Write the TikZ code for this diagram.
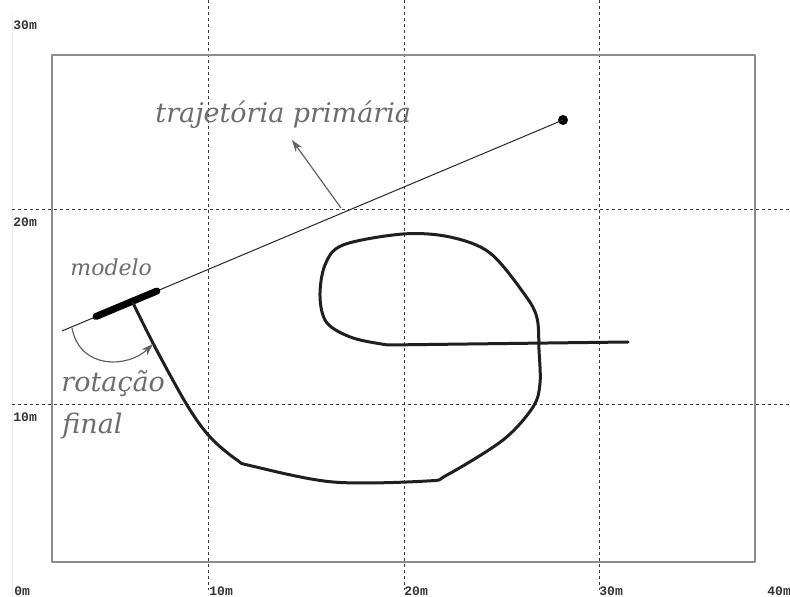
\documentclass[tikz,border=0pt]{standalone}
\usepackage{fontspec}
\newfontfamily\tagfont{DejaVu Serif}
\newfontfamily\tickfont{Liberation Mono}
\usetikzlibrary{arrows.meta, calc}
\definecolor{cgrid}{HTML}{3A3A3A}
\definecolor{cframe}{HTML}{8C8C8C}
\definecolor{ctext}{HTML}{6C6C6C}
\definecolor{croute}{HTML}{1F1F1F}
\tikzset{
  every picture/.style={x=0.5pt, y=-0.5pt, line join=round},
  gridline/.style={draw=cgrid, line width=0.5pt, dash pattern=on 1.5pt off 1.5pt},
  plotframe/.style={draw=cframe, line width=1pt},
  ticklabel/.style={font=\tickfont\bfseries\fontsize{6.5}{7}\selectfont, text=black!80, anchor=north west, inner sep=0pt},
  tag/.style={font=\tagfont\itshape\fontsize{13.5}{15}\selectfont, text=ctext, anchor=base west, inner sep=0pt},
  primary/.style={draw=black!85, line width=0.5pt},
  model/.style={draw=black, line width=3.5pt, line cap=round},
  route/.style={draw=croute, line width=1.5pt, line cap=round},
  pointer/.style={-{Stealth[length=6pt, width=4pt]}, draw=black!62, line width=0.6pt},
  goal/.style={circle, fill=black, inner sep=0pt, minimum size=5pt},
}
\begin{document}
\begin{tikzpicture}
  \useasboundingbox (0,0) rectangle (790,597);
  % grid, axis and frame
  \draw[draw=black!8, line width=0.5pt] (12,15) -- (12,597);
  \foreach \gx in {208,404,599}
    \draw[gridline] (\gx,0) -- (\gx,590);
  \foreach \gy in {210,405}
    \draw[gridline] (12,\gy) -- (790,\gy);
  \draw[plotframe] (52,55) rectangle (755,562);
  % axis marks
  \foreach \gx/\txt [count=\i] in {14/0m, 209/10m, 404/20m, 599/30m, 767/40m}
    \node[ticklabel] (xt\i) at (\gx,586) {\txt};
  \foreach \gy/\txt [count=\i] in {20/30m, 217/20m, 412/10m}
    \node[ticklabel] (yt\i) at (13,\gy) {\txt};
  % primary trajectory and goal point
  \coordinate (p0) at (62,331);
  \node[goal] (p1) at (563,120) {};
  \draw[primary] (p0) -- (p1.center);
  % model on the primary trajectory
  \coordinate (m0) at (96,316.5);
  \coordinate (m1) at (157,291);
  \draw[model] (m0) -- (m1);
  % trajectory followed
  \draw[route] plot[smooth, tension=0.55] coordinates {(133,303) (155,347) (187,405) (210,437) (237,460) (252,466) (333,482) (427,481) (447,475) (503,440) (533,407) (540,383) (539,350) (537,318) (525,295) (490,253) (450,237) (403,234) (343,245) (325,265) (320,297) (327,323) (353,338) (388,345)} -- (628,342);
  % labels
  \node[tag] (trj) at (155,123) {trajetória primária};
  \node[tag, font=\tagfont\itshape\fontsize{11}{13}\selectfont] (mdl) at (70,276) {modelo};
  \node[tag] (rot) at (61,392) {rotação};
  \node[tag] (fin) at (62,433) {final};
  % pointers
  \coordinate (hit) at (341,208);
  \coordinate (trjtip) at (292,140);
  \draw[pointer] (hit) -- (trjtip);
  \coordinate (r0) at (72,328);
  \coordinate (r1) at (153,344);
  \draw[pointer] (r0) .. controls (80,370) and (128,368) .. (r1);
\end{tikzpicture}
\end{document}
